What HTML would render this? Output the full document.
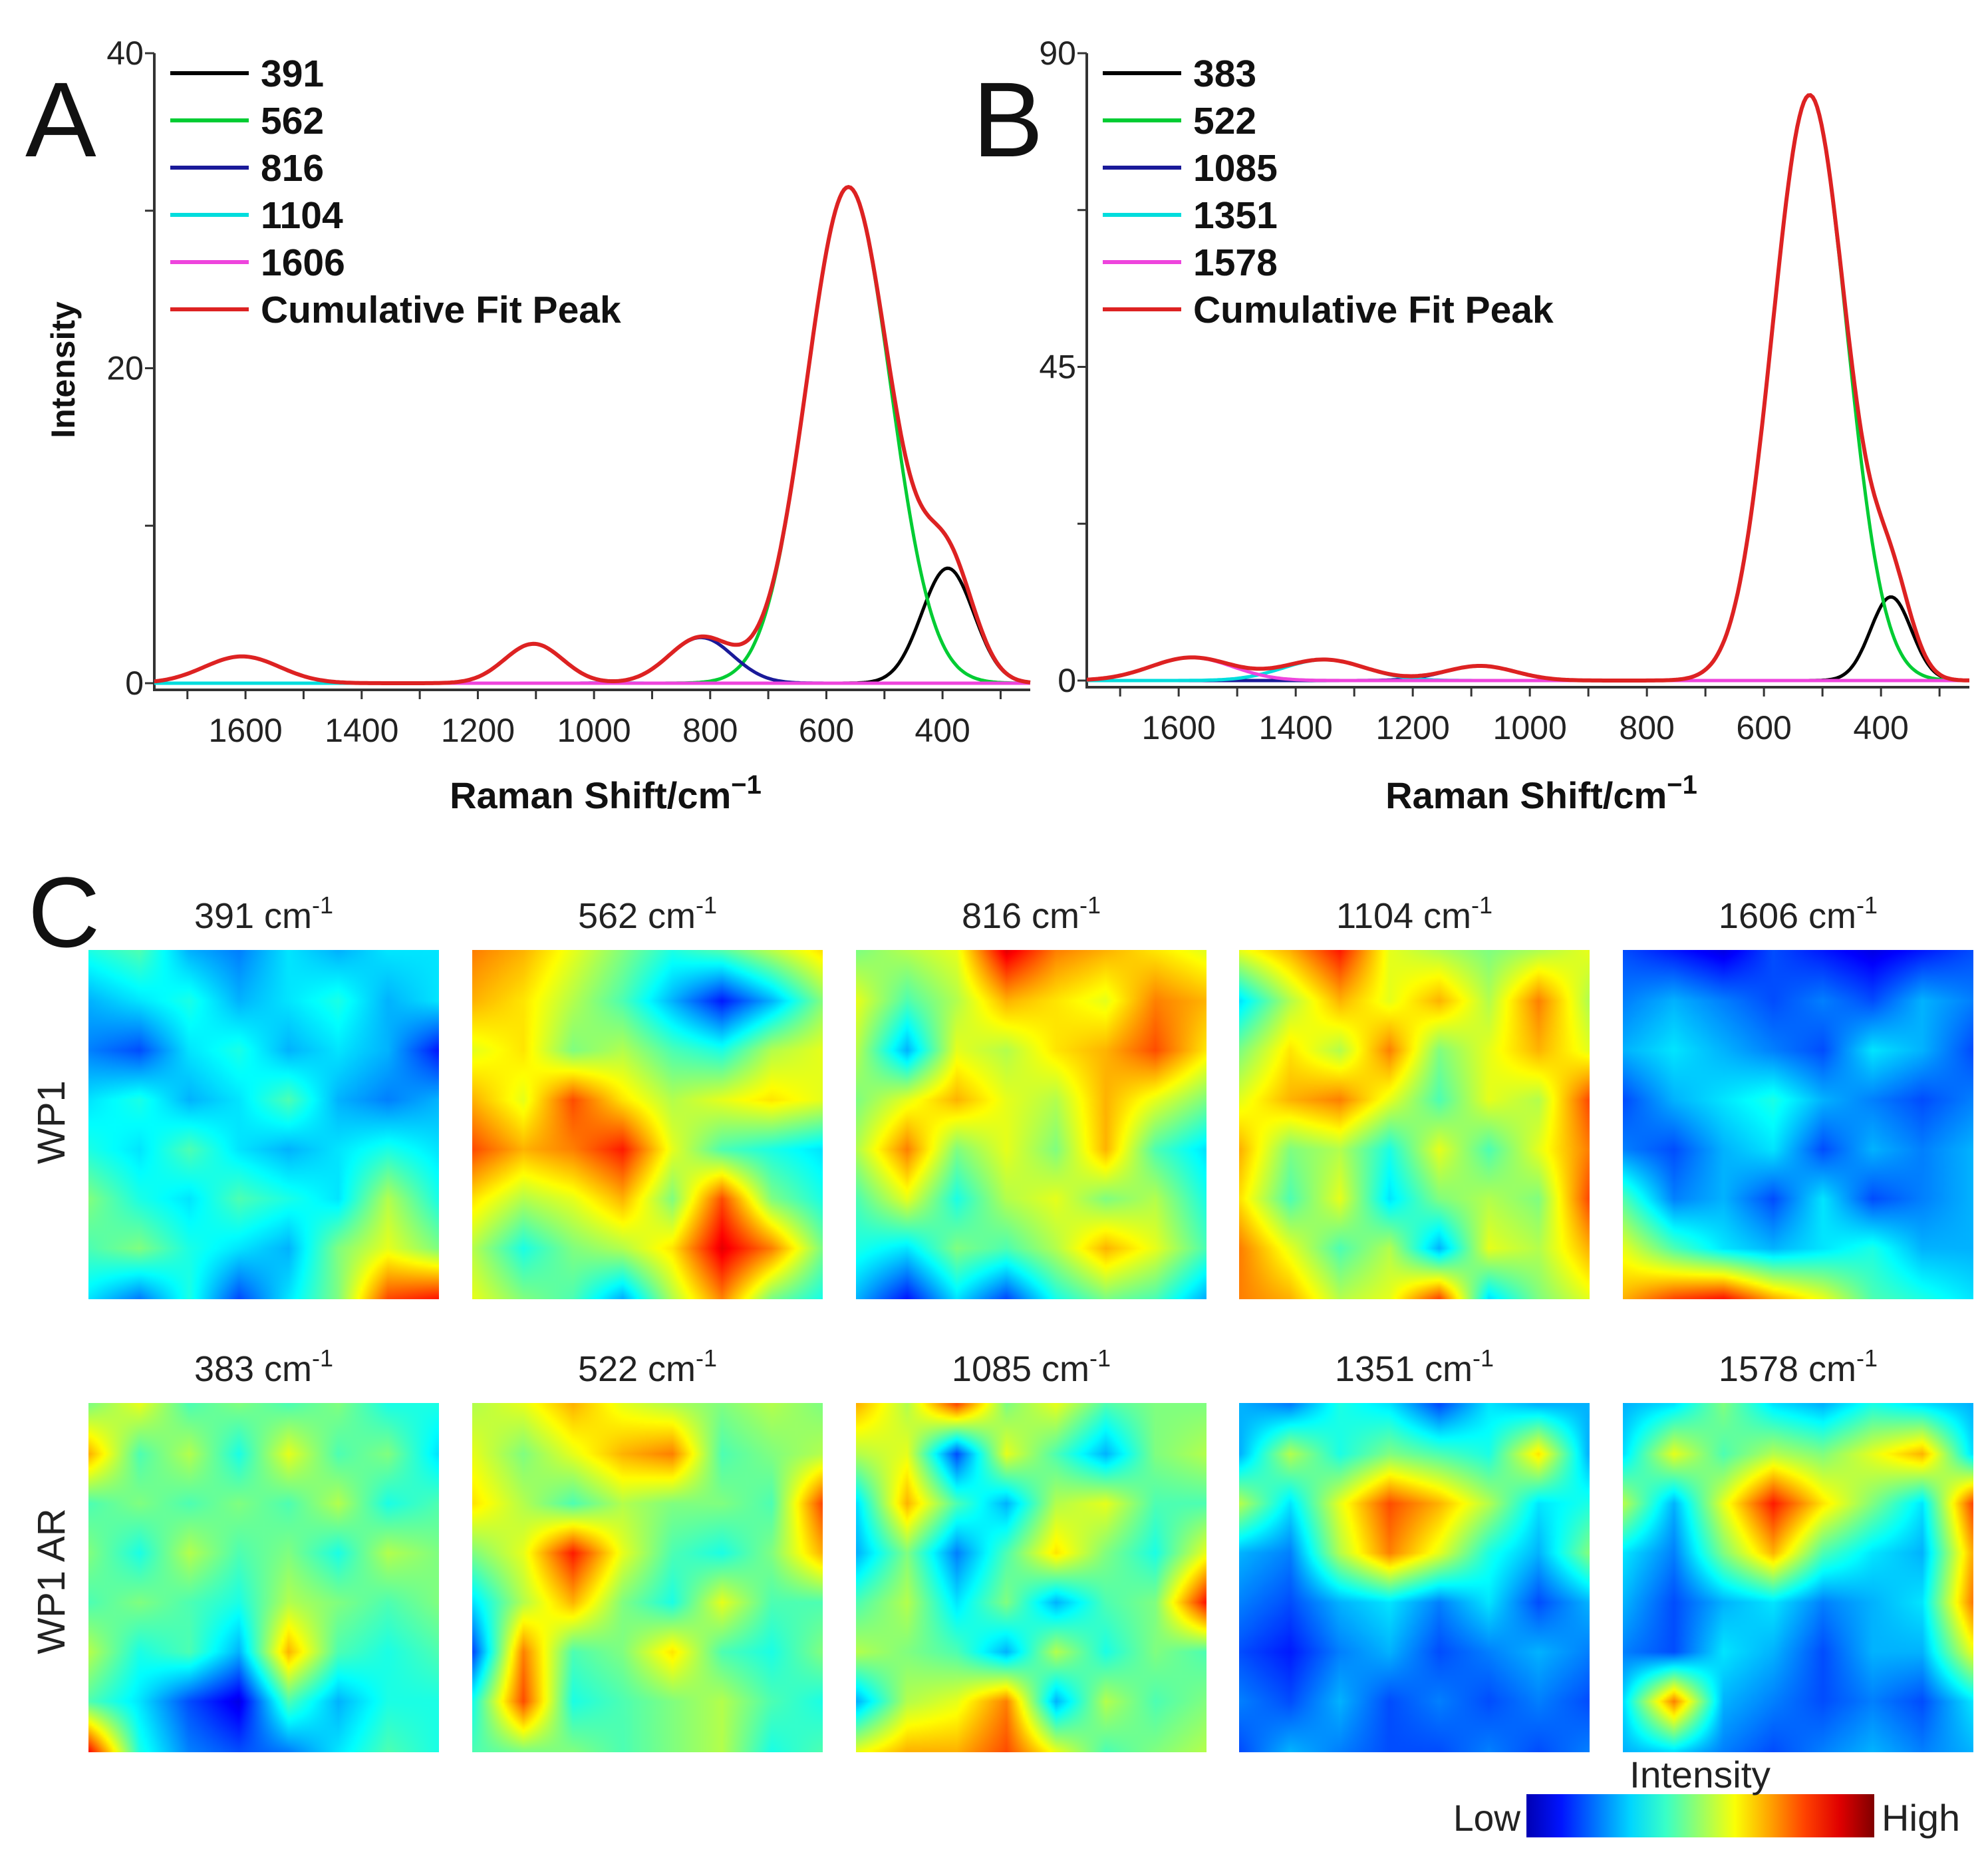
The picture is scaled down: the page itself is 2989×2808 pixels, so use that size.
<!DOCTYPE html>
<html><head><meta charset="utf-8">
<style>
html,body{margin:0;padding:0;background:#fff;}
body{width:2989px;height:2808px;position:relative;overflow:hidden;font-family:"Liberation Sans",sans-serif;}
svg{position:absolute;left:0;top:0;}
canvas{position:absolute;}
</style></head>
<body>
<svg id="main" width="2989" height="2808"></svg>
<script>
// ---- Spectra data (Gaussian fit components) ----
const centersA = [391, 562, 816, 1104, 1606];
const heightsA = [7.3, 31.5, 2.9, 2.5, 1.7];
const sigmasA  = [45, 72, 55, 50, 65];
const centersB = [383, 522, 1085, 1351, 1578];
const heightsB = [12, 84, 2.1, 3.0, 3.3];
const sigmasB  = [35, 63, 60, 70, 70];
const compColors = ["#000000", "#00cc33", "#1a1a99", "#00dddd", "#ee44dd"];
const xTicks = [1600, 1400, 1200, 1000, 800, 600, 400];
const yTicksA = [0, 20, 40];
const yTicksB = [0, 45, 90];
const legendA = ["391", "562", "816", "1104", "1606", "Cumulative Fit Peak"];
const legendB = ["383", "522", "1085", "1351", "1578", "Cumulative Fit Peak"];
const mapTitlesTop = ["391", "562", "816", "1104", "1606"];
const mapTitlesBot = ["383", "522", "1085", "1351", "1578"];
// ---- Heatmap grids (8x8, 0=low, 1=high) ----
const map391 = [[.4,.45,.3,.25,.35,.3,.35,.35],[.3,.35,.4,.3,.35,.4,.3,.35],[.25,.2,.35,.4,.3,.35,.3,.15],[.35,.4,.3,.35,.45,.3,.25,.3],[.4,.35,.45,.35,.3,.35,.4,.35],[.5,.4,.35,.45,.4,.35,.55,.4],[.45,.5,.4,.35,.3,.5,.6,.5],[.35,.25,.4,.2,.35,.5,.8,.85]];
const map562 = [[.75,.7,.6,.5,.4,.45,.55,.65],[.7,.65,.55,.45,.3,.15,.3,.5],[.6,.65,.5,.55,.45,.4,.55,.6],[.7,.6,.8,.65,.55,.6,.65,.6],[.8,.7,.75,.85,.6,.45,.4,.35],[.65,.55,.6,.7,.5,.8,.5,.4],[.55,.4,.5,.55,.65,.9,.75,.5],[.6,.5,.45,.3,.55,.75,.5,.4]];
const map816 = [[.5,.55,.6,.9,.75,.7,.65,.6],[.6,.45,.55,.7,.65,.6,.75,.7],[.55,.3,.6,.55,.65,.7,.8,.65],[.5,.6,.7,.6,.55,.7,.6,.5],[.55,.75,.5,.6,.5,.7,.45,.35],[.45,.6,.4,.55,.6,.5,.55,.4],[.4,.35,.5,.45,.55,.7,.6,.45],[.3,.15,.35,.2,.4,.5,.45,.3]];
const map1104 = [[.6,.7,.85,.6,.55,.5,.55,.6],[.35,.55,.7,.6,.7,.55,.75,.55],[.5,.65,.55,.75,.5,.6,.7,.6],[.6,.7,.75,.6,.45,.6,.55,.8],[.7,.5,.55,.4,.6,.45,.6,.75],[.65,.45,.6,.35,.5,.55,.5,.8],[.75,.6,.45,.55,.3,.6,.55,.7],[.75,.7,.55,.6,.8,.35,.5,.6]];
const map1606 = [[.2,.15,.1,.2,.15,.1,.15,.2],[.25,.3,.25,.2,.25,.2,.3,.25],[.3,.35,.3,.25,.2,.35,.3,.2],[.2,.3,.35,.4,.3,.25,.2,.25],[.25,.2,.3,.35,.2,.3,.25,.3],[.45,.25,.3,.2,.35,.2,.25,.3],[.6,.45,.35,.3,.35,.4,.3,.3],[.7,.8,.85,.7,.6,.45,.4,.35]];
const map383 = [[.5,.6,.45,.5,.45,.5,.4,.4],[.7,.45,.55,.4,.6,.45,.5,.35],[.45,.5,.45,.5,.45,.55,.4,.45],[.5,.4,.55,.45,.5,.4,.55,.5],[.45,.5,.45,.4,.55,.5,.45,.5],[.55,.4,.45,.3,.7,.45,.4,.45],[.45,.35,.2,.1,.45,.3,.4,.4],[.85,.4,.25,.2,.25,.35,.45,.4]];
const map522 = [[.55,.6,.7,.6,.55,.5,.55,.5],[.6,.5,.6,.7,.75,.45,.5,.55],[.65,.55,.45,.55,.5,.5,.45,.8],[.5,.6,.85,.6,.45,.4,.5,.7],[.35,.55,.7,.5,.4,.6,.45,.45],[.2,.75,.45,.5,.65,.45,.4,.5],[.4,.8,.4,.45,.5,.55,.45,.4],[.45,.5,.5,.45,.5,.55,.4,.45]];
const map1085 = [[.7,.55,.8,.5,.6,.45,.5,.5],[.55,.6,.2,.6,.45,.3,.5,.55],[.35,.7,.45,.3,.55,.6,.45,.45],[.3,.5,.25,.45,.65,.5,.4,.6],[.45,.55,.35,.5,.3,.45,.5,.85],[.55,.5,.45,.3,.55,.4,.5,.45],[.3,.55,.6,.75,.3,.55,.45,.5],[.6,.7,.7,.8,.6,.45,.5,.55]];
const map1351 = [[.3,.25,.4,.35,.2,.35,.3,.3],[.3,.55,.4,.5,.45,.4,.65,.3],[.55,.35,.6,.8,.7,.55,.35,.4],[.3,.25,.55,.75,.6,.4,.3,.5],[.25,.2,.3,.35,.25,.35,.2,.3],[.2,.15,.25,.3,.2,.25,.3,.25],[.25,.2,.3,.2,.25,.2,.25,.2],[.2,.3,.25,.2,.2,.25,.2,.25]];
const map1578 = [[.3,.35,.5,.35,.3,.4,.35,.3],[.35,.6,.45,.55,.5,.6,.7,.35],[.55,.3,.6,.85,.65,.5,.35,.8],[.35,.25,.5,.7,.45,.35,.3,.7],[.3,.2,.3,.35,.25,.3,.35,.75],[.25,.2,.35,.3,.2,.3,.3,.6],[.35,.75,.3,.25,.2,.25,.2,.35],[.3,.35,.25,.2,.25,.3,.25,.3]];

const NS = "http://www.w3.org/2000/svg";
const svg = document.getElementById("main");
function mk(tag, attrs, parent) {
  const e = document.createElementNS(NS, tag);
  for (const k in attrs) e.setAttribute(k, attrs[k]);
  (parent || svg).appendChild(e);
  return e;
}
function txt(s, attrs, parent) { const t = mk("text", attrs, parent); t.textContent = s; return t; }
function gauss(x, c, h, s) { return h * Math.exp(-0.5 * ((x - c) / s) ** 2); }

function drawSpectrum(opt) {
  const g = mk("g", {});
  
  
  const X0 = opt.left, X1 = opt.right, Y0 = opt.y0, Y1 = opt.yTop;
  const dMin = 1757, dMax = 249;
  const xs = v => X0 + (dMin - v) / (dMin - dMax) * (X1 - X0);
  const ys = v => Y0 - v / opt.yMax * (Y0 - Y1);
  const ax = mk("path", {d:`M${X0} ${Y1} L${X0} ${Y0+10} L${X1} ${Y0+10}`, fill:"none", stroke:"#333", "stroke-width":4}, g);
  
  
  for (let i = 0; i <= 4; i++) {
    const v = opt.yMax * i / 4;
    mk("line", {x1:X0-14, x2:X0, y1:ys(v), y2:ys(v), stroke:"#333", "stroke-width":3}, g);
  }
  opt.yTicks.forEach(v => {
    const t = txt(String(v), {x:X0-16, y:ys(v)+17, "font-size":50, "text-anchor":"end", fill:"#222"}, g);
    
    
  });
  for (let v = 1700; v >= 300; v -= 100) {
    mk("line", {x1:xs(v), x2:xs(v), y1:Y0+10, y2:Y0+24, stroke:"#333", "stroke-width":3}, g);
  }
  xTicks.forEach(v => {
    const t = txt(String(v), {x:xs(v), y:Y0+88, "font-size":50, "text-anchor":"middle", fill:"#222"}, g);
    
    
  });
  const xt = txt("", {x:(X0+X1)/2+20, y:opt.titleY, "font-size":56, "font-weight":"bold", "text-anchor":"middle", fill:"#111"}, g);
  xt.innerHTML = 'Raman Shift/cm<tspan dy="-22" font-size="40">−1</tspan>';
  
  
  const steps = 400;
  opt.centers.forEach((c, i) => {
    let d = "";
    for (let k = 0; k <= steps; k++) {
      const v = dMin - (dMin - dMax) * k / steps;
      d += (k ? "L" : "M") + xs(v).toFixed(1) + " " + ys(gauss(v, c, opt.heights[i], opt.sigmas[i])).toFixed(1);
    }
    const p = mk("path", {d, fill:"none", stroke:compColors[i], "stroke-width":5}, g);
    
    
  });
  let d = "";
  for (let k = 0; k <= steps; k++) {
    const v = dMin - (dMin - dMax) * k / steps;
    let s = 0;
    opt.centers.forEach((c, i) => s += gauss(v, c, opt.heights[i], opt.sigmas[i]));
    d += (k ? "L" : "M") + xs(v).toFixed(1) + " " + ys(s).toFixed(1);
  }
  const cum = mk("path", {d, fill:"none", stroke:"#dd2222", "stroke-width":6}, g);
  
  
  const lc = compColors.concat(["#dd2222"]);
  opt.labels.forEach((lab, i) => {
    const y = 110 + i * 71;
    const lg = mk("g", {}, g);
    
    
    mk("line", {x1:X0+24, x2:X0+142, y1:y, y2:y, stroke:lc[i], "stroke-width":6}, lg);
    txt(lab, {x:X0+160, y:y+20, "font-size":57, "font-weight":"bold", fill:"#111"}, lg);
  });
  const L = txt(opt.letter, {x:opt.letterX, y:235, "font-size":160, fill:"#111"}, g);
  
  
}

drawSpectrum({name:"spectrum-a", left:232, right:1549, y0:1027, yTop:80, yMax:40, yTicks:yTicksA,
  centers:centersA, heights:heightsA, sigmas:sigmasA, labels:legendA, letter:"A", letterX:38, titleY:1215});
drawSpectrum({name:"spectrum-b", left:1634, right:2961, y0:1023, yTop:80, yMax:90, yTicks:yTicksB,
  centers:centersB, heights:heightsB, sigmas:sigmasB, labels:legendB, letter:"B", letterX:1462, titleY:1215});

const yl = txt("Intensity", {x:0, y:0, "font-size":50, "font-weight":"bold", "text-anchor":"middle", fill:"#111", transform:"translate(112,556) rotate(-90)"});



// ---- Heatmaps ----
function jet(v) {
  const c = x => Math.max(0, Math.min(1, x));
  return [c(1.5 - Math.abs(4*v - 3)), c(1.5 - Math.abs(4*v - 2)), c(1.5 - Math.abs(4*v - 1))].map(x => Math.round(x*255));
}
const mapsTop = [map391, map562, map816, map1104, map1606];
const mapsBot = [map383, map522, map1085, map1351, map1578];
const colX = [133, 710, 1287, 1863, 2440];
const mapW = 527, rowY = [1428, 2109], mapH = 525;
function drawMap(grid, x, y, name) {
  const R = 120;
  const cv = document.createElement("canvas");
  cv.width = R; cv.height = R;
  cv.style.left = x + "px"; cv.style.top = y + "px";
  cv.style.width = mapW + "px"; cv.style.height = mapH + "px";
  
  
  const ctx = cv.getContext("2d");
  const img = ctx.createImageData(R, R);
  const n = grid.length;
  for (let j = 0; j < R; j++) for (let i = 0; i < R; i++) {
    const gx = i / (R - 1) * (n - 1), gy = j / (R - 1) * (n - 1);
    const x0 = Math.min(n - 2, Math.floor(gx)), y0 = Math.min(n - 2, Math.floor(gy));
    const fx = gx - x0, fy = gy - y0;
    const v = grid[y0][x0]*(1-fx)*(1-fy) + grid[y0][x0+1]*fx*(1-fy) + grid[y0+1][x0]*(1-fx)*fy + grid[y0+1][x0+1]*fx*fy;
    const c = jet(v);
    const k = (j*R + i) * 4;
    img.data[k] = c[0]; img.data[k+1] = c[1]; img.data[k+2] = c[2]; img.data[k+3] = 255;
  }
  ctx.putImageData(img, 0, 0);
  document.body.appendChild(cv);
}
mapsTop.forEach((m, i) => drawMap(m, colX[i], rowY[0], "heatmap-wp1-" + mapTitlesTop[i]));
mapsBot.forEach((m, i) => drawMap(m, colX[i], rowY[1], "heatmap-wp1ar-" + mapTitlesBot[i]));
function mapTitle(s, cx, y) {
  const t = txt("", {x:cx, y:y, "font-size":54, "text-anchor":"middle", fill:"#222"});
  t.innerHTML = s + ' cm<tspan dy="-22" font-size="36">-1</tspan>';
  
  
}
mapTitlesTop.forEach((s, i) => mapTitle(s, colX[i] + mapW/2, 1395));
mapTitlesBot.forEach((s, i) => mapTitle(s, colX[i] + mapW/2, 2076));
const r1 = txt("WP1", {x:0, y:0, "font-size":58, "text-anchor":"middle", fill:"#222", transform:"translate(97,1687) rotate(-90)"});


const r2 = txt("WP1 AR", {x:0, y:0, "font-size":58, "text-anchor":"middle", fill:"#222", transform:"translate(97,2377) rotate(-90)"});


const C = txt("C", {x:42, y:1423, "font-size":150, fill:"#111"});



// colorbar
const defs = mk("defs", {});
const lg = mk("linearGradient", {id:"jetg", x1:0, x2:1, y1:0, y2:0}, defs);
for (let i = 0; i <= 10; i++) {
  const c = jet(0.05 + 0.95 * i / 10);
  mk("stop", {offset:(i*10)+"%", "stop-color":`rgb(${c[0]},${c[1]},${c[2]})`}, lg);
}
const cb = mk("rect", {x:2295, y:2697, width:523, height:65, fill:"url(#jetg)"});


const it = txt("Intensity", {x:2556, y:2687, "font-size":56, "text-anchor":"middle", fill:"#222", textLength:212, lengthAdjust:"spacingAndGlyphs"});


const lo = txt("Low", {x:2185, y:2752, "font-size":56, fill:"#222", textLength:101, lengthAdjust:"spacingAndGlyphs"});


const hi = txt("High", {x:2829, y:2752, "font-size":56, fill:"#222", textLength:118, lengthAdjust:"spacingAndGlyphs"});


</script>
</body></html>
